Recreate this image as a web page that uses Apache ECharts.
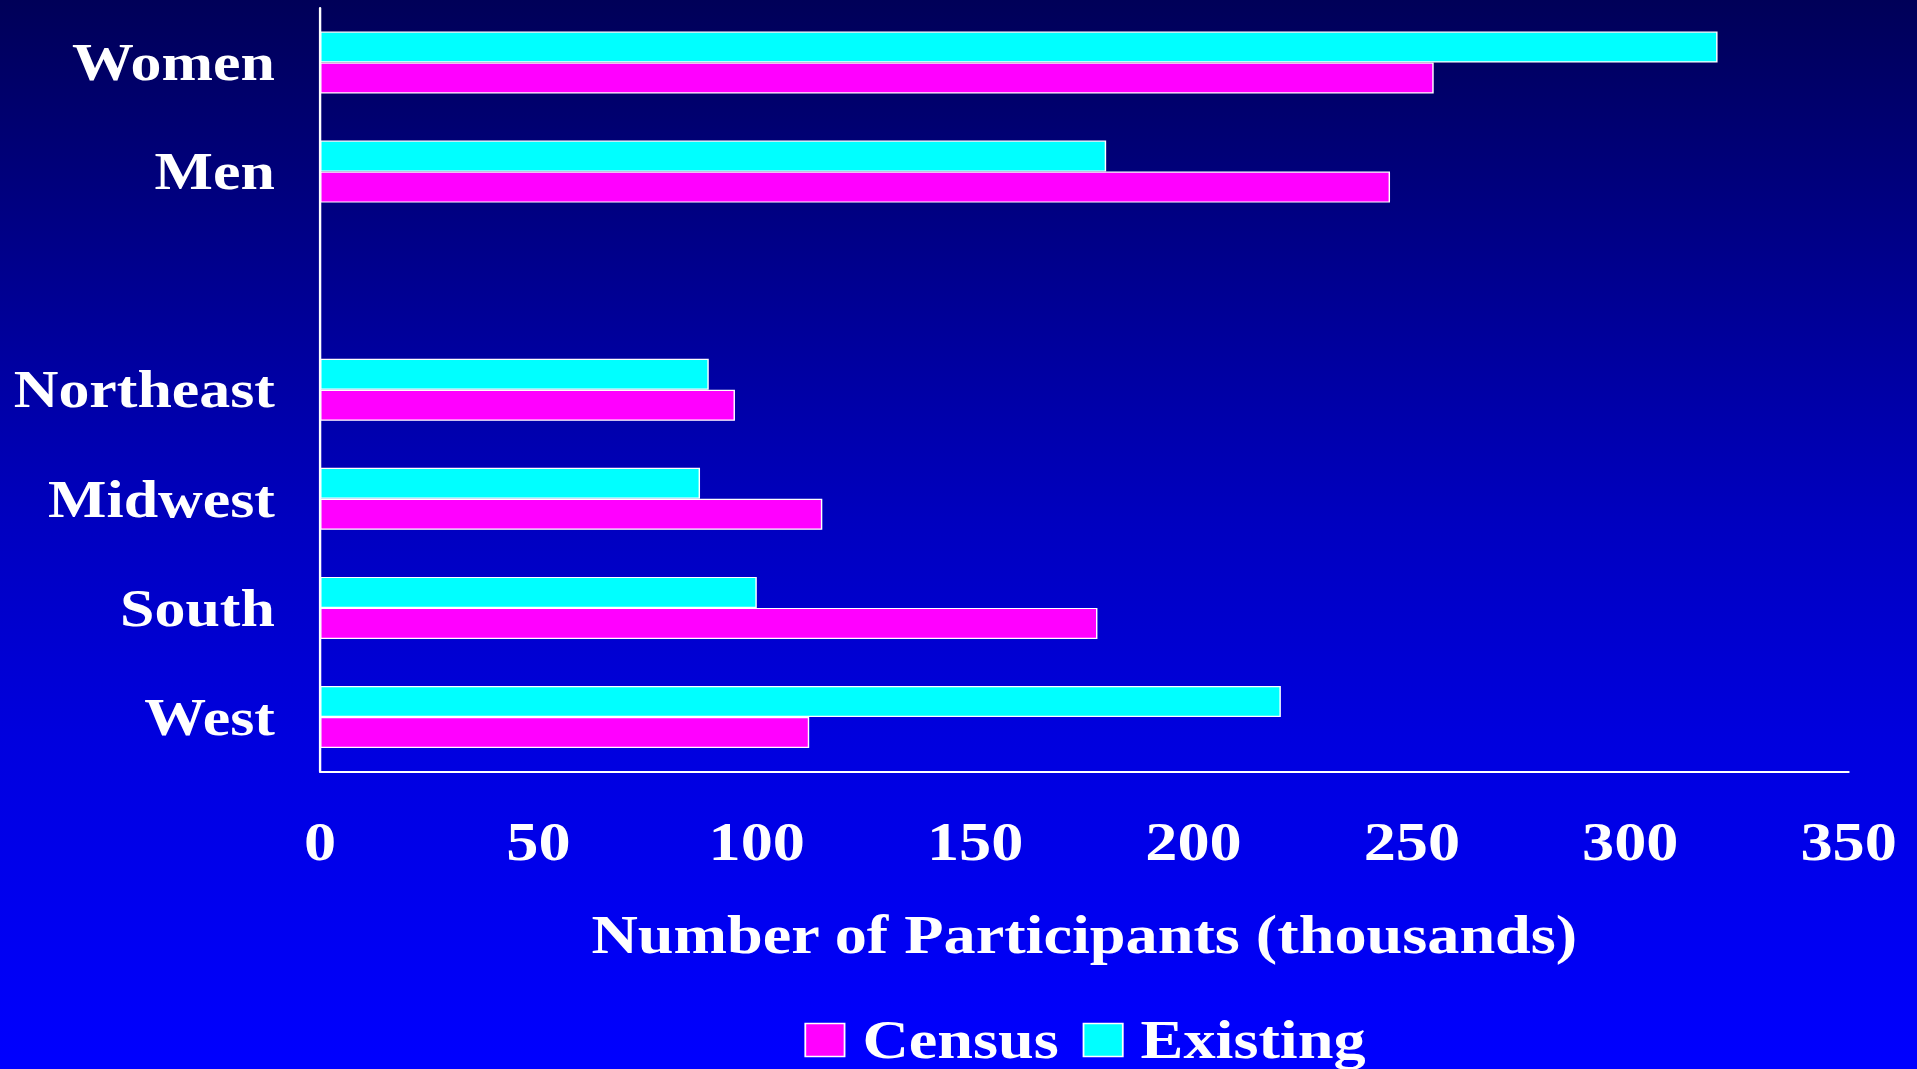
<!DOCTYPE html>
<html>
<head>
<meta charset="utf-8">
<title>Number of Participants</title>
<script src="https://cdn.jsdelivr.net/npm/echarts@6/dist/echarts.min.js"></script>
<style>
  html, body { margin: 0; padding: 0; width: 1917px; height: 1069px; overflow: hidden; background: #0000b0; }
  /* the slide is laid out at 1611px wide and stretched across the page */
  #chart { width: 1611px; height: 1069px; transform: scaleX(1.18994); transform-origin: 0 0; }
</style>
</head>
<body>
<div id="chart"></div>
<script>
// Groups, top to bottom (the empty entry is the spacer between sex and region)
const categories = ['Women', 'Men', '', 'Northeast', 'Midwest', 'South', 'West'];
// Participants, thousands
const censusValues   = [255, 245, null, 95, 115, 178, 112];
const existingValues = [320, 180, null, 89, 87, 100, 220];
// Value axis ticks
const axisMin = 0;
const axisMax = 350;
const axisStep = 50;
const legendNames = ['Census', 'Existing'];

const FONT = "'Liberation Serif', 'Times New Roman', serif";
const textBase = { color: '#ffffff', fontFamily: FONT, fontWeight: 'bold', fontSize: 54 };

const chart = echarts.init(document.getElementById('chart'), null, { renderer: 'svg' });

chart.setOption({
  animation: false,
  backgroundColor: {
    type: 'linear', x: 0, y: 0, x2: 0, y2: 1,
    colorStops: [
      { offset: 0, color: '#000058' },
      { offset: 0.32, color: '#00009c' },
      { offset: 0.49, color: '#0000c0' },
      { offset: 0.69, color: '#0000de' },
      { offset: 1, color: '#0000ff' }
    ]
  },
  grid: { left: 269, top: 8, width: 1284.5, height: 763.5, containLabel: false },
  legend: {
    data: legendNames,
    left: 671,
    top: 1008,
    itemWidth: 33,
    itemHeight: 33,
    itemGap: 20,
    icon: 'rect',
    itemStyle: { borderColor: '#ffffff', borderWidth: 1.5 },
    textStyle: Object.assign({}, textBase, { padding: [0, 0, 0, 10] })
  },
  xAxis: {
    type: 'value',
    min: axisMin,
    max: axisMax,
    interval: axisStep,
    name: 'Number of Participants (thousands)',
    nameLocation: 'middle',
    nameGap: 136,
    nameTextStyle: textBase,
    axisLine: { show: true, lineStyle: { color: '#ffffff', width: 2 } },
    axisTick: { show: false },
    splitLine: { show: false },
    axisLabel: Object.assign({}, textBase, { margin: 43 })
  },
  yAxis: {
    type: 'category',
    inverse: true,
    data: categories,
    axisLine: { show: true, lineStyle: { color: '#ffffff', width: 2 } },
    axisTick: { show: false },
    splitLine: { show: false },
    axisLabel: Object.assign({}, textBase, { fontSize: 52, margin: 38 })
  },
  // Existing is listed first so its bar sits above Census in each group
  series: [
    {
      name: 'Existing',
      type: 'bar',
      data: existingValues,
      barWidth: 31,
      barGap: '0%',
      itemStyle: { color: '#00ffff', borderColor: '#ffffff', borderWidth: 1.2 }
    },
    {
      name: 'Census',
      type: 'bar',
      data: censusValues,
      barWidth: 31,
      barGap: '0%',
      itemStyle: { color: '#ff00ff', borderColor: '#ffffff', borderWidth: 1.2 }
    }
  ]
});
</script>
</body>
</html>
